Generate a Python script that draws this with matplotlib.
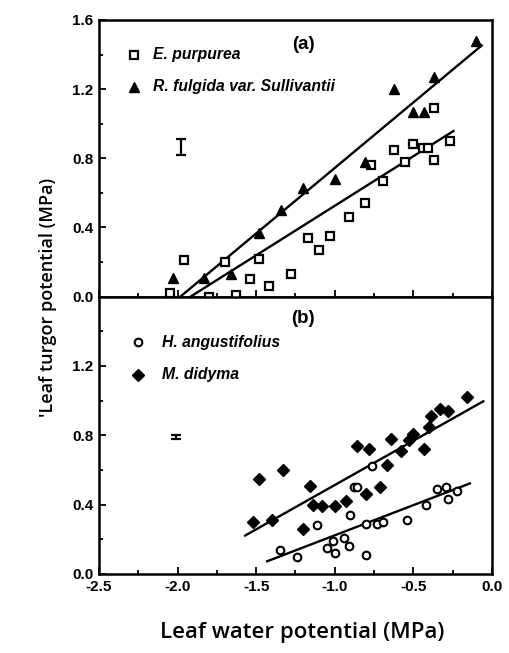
import matplotlib
matplotlib.use("Agg")
import matplotlib.pyplot as plt
from matplotlib.ticker import MultipleLocator
import numpy as np

# Panel (a): E. purpurea (open squares)
purpurea_x = [-2.05, -1.96, -1.80, -1.63, -1.70, -1.54, -1.48, -1.42, -1.28, -1.17,
              -1.10, -1.03, -0.91, -0.81, -0.69, -0.77, -0.62, -0.55, -0.50, -0.44,
              -0.41, -0.37, -0.37, -0.27]
purpurea_y = [0.02, 0.21, 0.00, 0.01, 0.20, 0.10, 0.22, 0.06, 0.13, 0.34,
              0.27, 0.35, 0.46, 0.54, 0.67, 0.76, 0.85, 0.78, 0.88, 0.86,
              0.86, 0.79, 1.09, 0.90]

# Panel (a): R. fulgida var. Sullivantii (filled triangles)
fulgida_x = [-2.03, -1.83, -1.66, -1.48, -1.34, -1.20, -1.00, -0.81, -0.62, -0.50,
             -0.43, -0.37, -0.10]
fulgida_y = [0.11, 0.11, 0.13, 0.37, 0.50, 0.63, 0.68, 0.78, 1.20, 1.07,
             1.07, 1.27, 1.48]

# Panel (b): H. angustifolius (open circles)
angustifolius_x = [-1.35, -1.24, -1.11, -1.05, -1.01, -1.00, -0.94, -0.91, -0.90, -0.88,
                   -0.86, -0.80, -0.80, -0.76, -0.73, -0.69, -0.54, -0.42, -0.35, -0.29,
                   -0.28, -0.22]
angustifolius_y = [0.14, 0.10, 0.28, 0.15, 0.19, 0.12, 0.21, 0.16, 0.34, 0.50,
                   0.50, 0.11, 0.29, 0.62, 0.29, 0.30, 0.31, 0.40, 0.49, 0.50,
                   0.43, 0.48]

# Panel (b): M. didyma (filled diamonds)
didyma_x = [-1.48, -1.52, -1.40, -1.33, -1.20, -1.16, -1.14, -1.08, -1.00, -0.93,
            -0.86, -0.78, -0.80, -0.71, -0.67, -0.64, -0.58, -0.53, -0.50, -0.43,
            -0.40, -0.39, -0.33, -0.28, -0.16]
didyma_y = [0.55, 0.30, 0.31, 0.60, 0.26, 0.51, 0.40, 0.39, 0.39, 0.42,
            0.74, 0.72, 0.46, 0.50, 0.63, 0.78, 0.71, 0.77, 0.81, 0.72,
            0.85, 0.91, 0.95, 0.94, 1.02]

# Fitted regression lines: (slope, intercept, x start, x end)
fit_purpurea = (0.573, 1.098, -1.92, -0.245)
fit_fulgida = (0.758, 1.502, -1.98, -0.065)
fit_angustifolius = (0.348, 0.571, -1.43, -0.14)
fit_didyma = (0.511, 1.024, -1.57, -0.055)

# Representative error bars: (x, y, half-width)
errbar_a = (-1.98, 0.865, 0.045)
errbar_b = (-2.01, 0.79, 0.012)

x_ticks = [-2.5, -2.0, -1.5, -1.0, -0.5, 0.0]
y_ticks_a = [0.0, 0.4, 0.8, 1.2, 1.6]
y_ticks_b = [0.0, 0.4, 0.8, 1.2]

fig = plt.figure(figsize=(5.09, 6.53), dpi=100)
left, width = 0.1945, 0.772
ax_a = fig.add_axes([left, 0.5459, width, 0.4235])
ax_b = fig.add_axes([left, 0.1210, width, 0.4249])

tick_font = dict(family="Liberation Sans", weight="bold", size=11)
legend_font = dict(family="Liberation Sans", weight="bold", style="italic", size=11.3)


def fit_line(ax, fit):
    slope, intercept, x0, x1 = fit
    xs = np.array([x0, x1])
    ax.plot(xs, slope * xs + intercept, color="black", lw=1.7, zorder=2)


def style_axes(ax, yticks, show_x):
    ax.set_xlim(-2.5, 0.0)
    ax.set_ylim(0.0, 1.6)
    ax.set_xticks(x_ticks)
    ax.xaxis.set_minor_locator(MultipleLocator(0.25))
    ax.yaxis.set_minor_locator(MultipleLocator(0.2))
    ax.set_yticks(yticks)
    ax.set_yticklabels([f"{v:.1f}" for v in yticks], fontdict=tick_font)
    if show_x:
        ax.set_xticklabels([f"{v:.1f}" for v in x_ticks], fontdict=tick_font)
    else:
        ax.set_xticklabels([])
    ax.tick_params(which="major", direction="in", length=5, width=1.3, pad=4)
    ax.tick_params(which="minor", direction="in", length=3, width=1.3)
    for sp in ax.spines.values():
        sp.set_linewidth(1.8)


# Panel (a)
fit_line(ax_a, fit_fulgida)
fit_line(ax_a, fit_purpurea)
ax_a.plot(purpurea_x, purpurea_y, ls="none", marker="s", ms=6.3, mfc="white",
          mec="black", mew=1.6, zorder=3)
ax_a.plot(fulgida_x, fulgida_y, ls="none", marker="^", ms=7.5, color="black", zorder=3)
ax_a.errorbar([errbar_a[0]], [errbar_a[1]], yerr=[errbar_a[2]], fmt="none",
              ecolor="black", elinewidth=1.6, capsize=3.5, capthick=1.6)
ax_a.plot([-2.28], [1.40], ls="none", marker="s", ms=6.3, mfc="white", mec="black", mew=1.6)
ax_a.text(-2.155, 1.40, "E. purpurea", va="center", ha="left", **legend_font)
ax_a.plot([-2.28], [1.215], ls="none", marker="^", ms=7.5, color="black")
ax_a.text(-2.155, 1.215, "R. fulgida var. Sullivantii", va="center", ha="left", **legend_font)
ax_a.text(-1.20, 1.46, "(a)", ha="center", va="center", family="Liberation Sans",
          weight="bold", size=13.5)
style_axes(ax_a, y_ticks_a, False)

# Panel (b)
fit_line(ax_b, fit_didyma)
fit_line(ax_b, fit_angustifolius)
ax_b.plot(angustifolius_x, angustifolius_y, ls="none", marker="o", ms=5.5, mfc="white",
          mec="black", mew=1.5, zorder=3)
ax_b.plot(didyma_x, didyma_y, ls="none", marker="D", ms=6, color="black", zorder=3)
ax_b.errorbar([errbar_b[0]], [errbar_b[1]], yerr=[errbar_b[2]], fmt="none",
              ecolor="black", elinewidth=1.6, capsize=3.5, capthick=1.6)
ax_b.plot([-2.25], [1.335], ls="none", marker="o", ms=5.5, mfc="white", mec="black", mew=1.5)
ax_b.text(-2.10, 1.335, "H. angustifolius", va="center", ha="left", **legend_font)
ax_b.plot([-2.25], [1.15], ls="none", marker="D", ms=6, color="black")
ax_b.text(-2.10, 1.15, "M. didyma", va="center", ha="left", **legend_font)
ax_b.text(-1.20, 1.475, "(b)", ha="center", va="center", family="Liberation Sans",
          weight="bold", size=13.5)
style_axes(ax_b, y_ticks_b, True)

fig.text(0.593, 0.032, "Leaf water potential (MPa)", ha="center", va="center",
         family="Open Sans", weight="semibold", size=16)
fig.text(0.095, 0.545, "'Leaf turgor potential (MPa)", ha="center", va="center",
         rotation=90, family="Open Sans", weight="semibold", size=13)

fig.savefig("out.png", dpi=100)
